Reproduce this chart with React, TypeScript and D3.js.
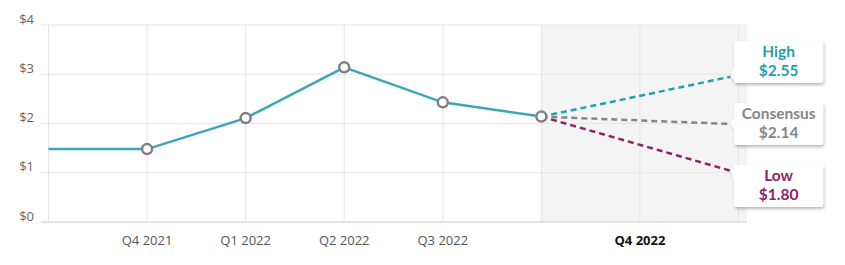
import React from "react";
import * as d3 from "d3";

const categories = ["", "Q4 2021", "Q1 2022", "Q2 2022", "Q3 2022", "", "Q4 2022", ""];
const highlightCategory = "Q4 2022";
const historyValues = [1.48, 1.48, 2.11, 3.14, 2.43, 2.14];
const markerFromIndex = 1;
const yTicks = [0, 1, 2, 3, 4];
const forecastStartIndex = 5;
const forecastEndIndex = 6.92;
const forecastNames = ["High", "Consensus", "Low"];
const forecastEndValues = [2.95, 1.99, 1.04];
const forecastLabels = ["$2.55", "$2.14", "$1.80"];
const forecastColors = ["#1fa2ac", "#868686", "#8c2466"];

const W = 845;
const H = 265;
const plotLeft = 41;
const plotRight = 747;
const FONT = "'Open Sans', Lato, sans-serif";
const CALLOUT_FONT = "Lato, 'Open Sans', sans-serif";

export default function App() {
  const x = d3.scaleLinear().domain([0, categories.length - 1]).range([48.5, 738.5]);
  const y = d3.scaleLinear().domain([0, 4]).range([222, 25]);
  const line = d3
    .line<number>()
    .x((_, i) => x(i))
    .y((d) => y(d));

  const boxW = 89;
  const boxH = 42;
  const spacing = 62;
  const anchorsY = forecastEndValues.map((v) => y(v));
  const mid = anchorsY[1];
  const centers = anchorsY.map((a, i) => {
    const off = (i - 1) * spacing;
    if (i === 0) return Math.min(a, mid + off);
    if (i === 2) return Math.max(a, mid + off);
    return a;
  });
  const ax = x(forecastEndIndex);
  const bx = ax + 3.5;

  return (
    <div style={{ position: "absolute", left: 0, top: 0 }}>
      <svg width={W} height={H} style={{ display: "block", fontFamily: FONT }}>
        <defs>
          <filter id="shadow" x="-20%" y="-20%" width="140%" height="150%">
            <feDropShadow dx="1" dy="2" stdDeviation="1.5" floodColor="#000" floodOpacity="0.28" />
          </filter>
        </defs>
        <rect
          x={x(forecastStartIndex)}
          y={y(4)}
          width={plotRight - x(forecastStartIndex)}
          height={y(0) - y(4)}
          fill="#f4f4f4"
        />
        {categories.map((_, i) => (
          <line key={"v" + i} x1={x(i)} x2={x(i)} y1={y(4)} y2={y(0)} stroke="#e6e6e6" strokeWidth={1} />
        ))}
        {yTicks.map((t) => (
          <g key={"y" + t}>
            <line
              x1={plotLeft}
              x2={plotRight}
              y1={y(t)}
              y2={y(t)}
              stroke={t === 0 ? "#d9ddec" : "#e6e6e6"}
              strokeWidth={t === 0 ? 1.5 : 1}
            />
            <text x={34} y={y(t) - 1.5} textAnchor="end" fontSize={13} fill="#666">
              {"$" + t}
            </text>
          </g>
        ))}
        {categories.map((c, i) =>
          c ? (
            <text
              key={"x" + i}
              x={x(i)}
              y={245}
              textAnchor="middle"
              fontSize={13}
              fontWeight={c === highlightCategory ? 700 : 400}
              fill={c === highlightCategory ? "#111" : "#555"}
            >
              {c}
            </text>
          ) : null
        )}
        <path d={line(historyValues) || ""} fill="none" stroke="#3aa7b8" strokeWidth={2.5} />
        {forecastEndValues.map((v, i) => (
          <line
            key={"f" + i}
            x1={x(forecastStartIndex)}
            y1={y(historyValues[forecastStartIndex])}
            x2={ax}
            y2={y(v)}
            stroke={forecastColors[i]}
            strokeWidth={2.5}
            strokeDasharray="6,4"
          />
        ))}
        {historyValues.map((v, i) =>
          i >= markerFromIndex ? (
            <circle key={"p" + i} cx={x(i)} cy={y(v)} r={5} fill="#fff" stroke="#808080" strokeWidth={2.5} />
          ) : null
        )}
        {forecastNames.map((name, i) => {
          const cy = centers[i];
          const top = cy - boxH / 2;
          const bottom = cy + boxH / 2;
          const ay = anchorsY[i];
          const yc = Math.max(top + 9, Math.min(bottom - 9, ay));
          const r = 2;
          const d = [
            `M${bx + r},${top}`,
            `L${bx + boxW - r},${top}`,
            `Q${bx + boxW},${top} ${bx + boxW},${top + r}`,
            `L${bx + boxW},${bottom - r}`,
            `Q${bx + boxW},${bottom} ${bx + boxW - r},${bottom}`,
            `L${bx + r},${bottom}`,
            `Q${bx},${bottom} ${bx},${bottom - r}`,
            `L${bx},${yc + 6}`,
            `L${ax},${ay}`,
            `L${bx},${yc - 6}`,
            `L${bx},${top + r}`,
            `Q${bx},${top} ${bx + r},${top}`,
            "Z",
          ].join(" ");
          const tx = bx + boxW / 2;
          return (
            <g key={"c" + i} style={{ fontFamily: CALLOUT_FONT }}>
              <path d={d} fill="#fff" filter="url(#shadow)" />
              <text x={tx} y={top + 16.5} textAnchor="middle" fontSize={15.5} fontWeight={700} fill={forecastColors[i]}>
                {name}
              </text>
              <text x={tx} y={top + 35.5} textAnchor="middle" fontSize={15.5} fontWeight={700} fill={forecastColors[i]}>
                {forecastLabels[i]}
              </text>
            </g>
          );
        })}
      </svg>
    </div>
  );
}
